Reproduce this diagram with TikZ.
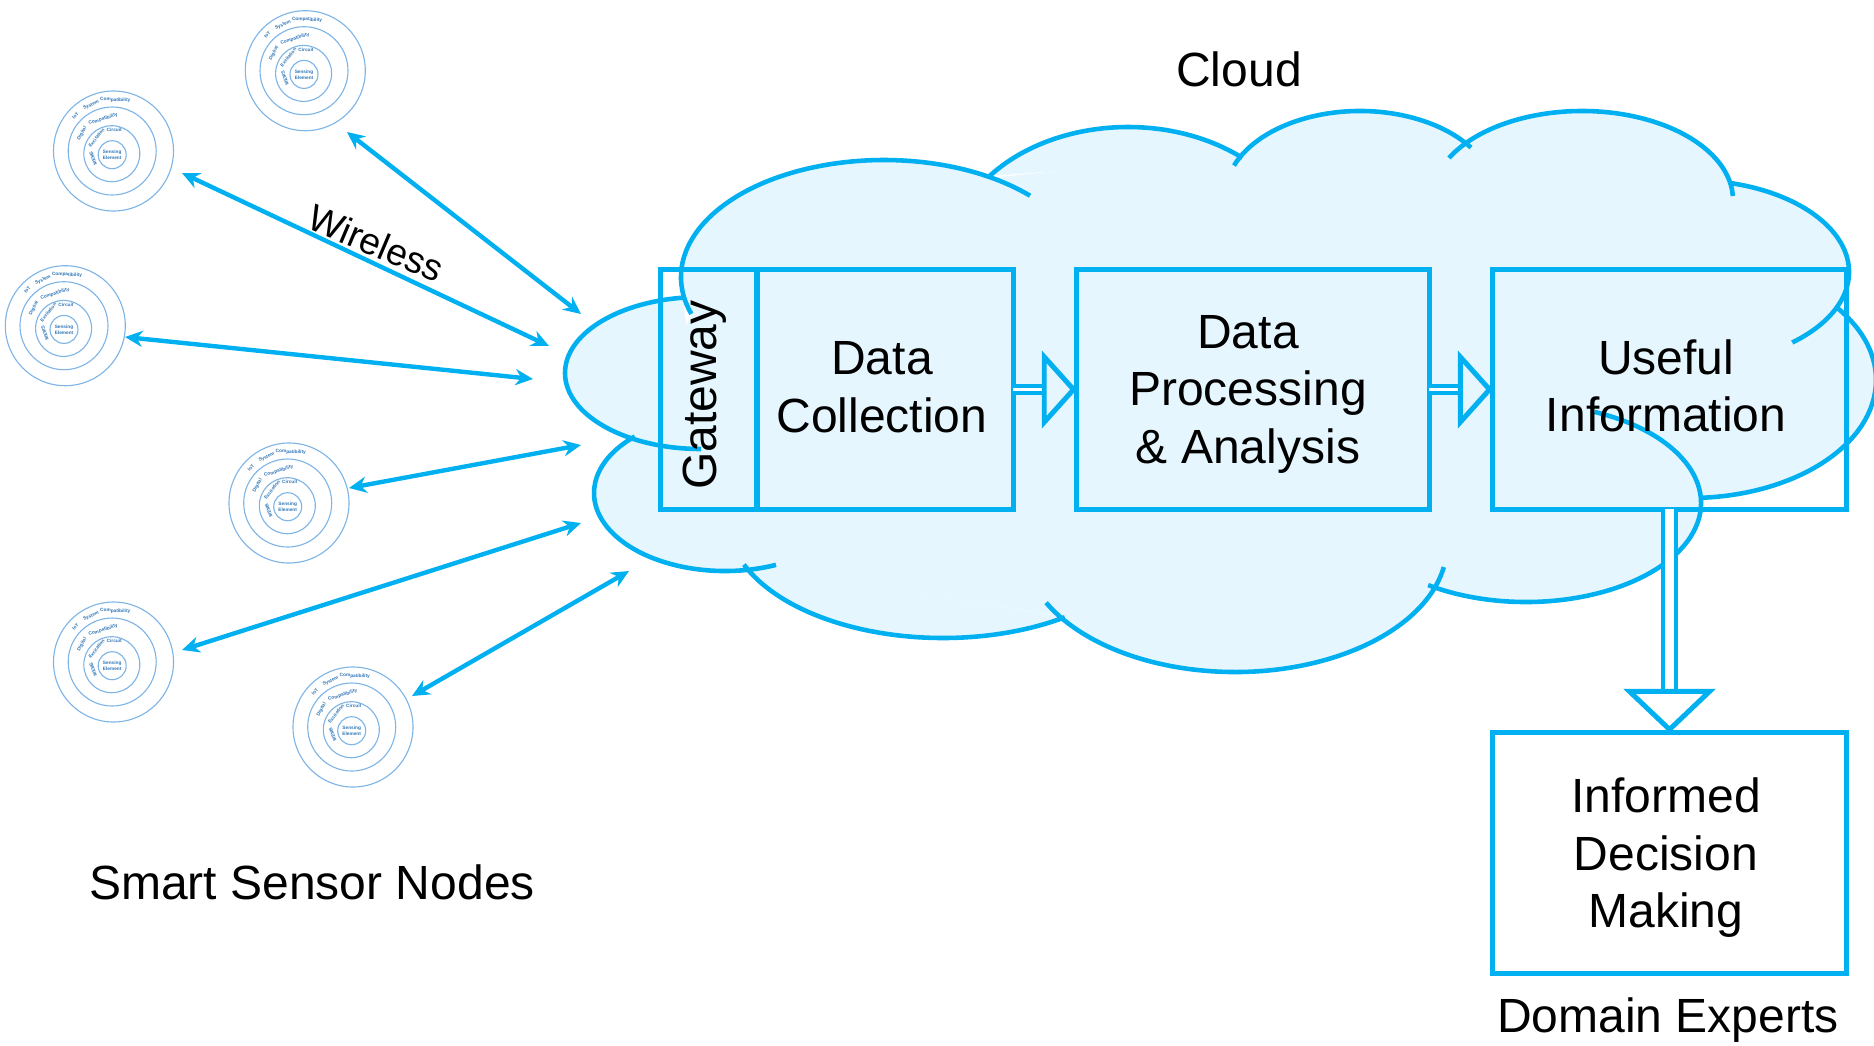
\documentclass[tikz,border=0pt]{standalone}
\usepackage{fontspec}
\setmainfont{Liberation Sans}
\usepackage{xcolor}
\usetikzlibrary{calc,positioning,arrows.meta}

\definecolor{cloudline}{HTML}{00B0F0}
\definecolor{cloudfill}{HTML}{E6F6FE}
\definecolor{ringline}{HTML}{7FB5E6}
\definecolor{ringtext}{HTML}{2E75B6}

\newcommand{\bigfont}{\fontsize{13.65}{16.35}\selectfont}
\newcommand{\ringfont}{\fontsize{1.35}{1.7}\selectfont\bfseries}

% one lobe of the cloud: centre x, centre y, x radius, y radius, start angle, end angle
\newcommand{\cloudlobe}[6]{(#1,#2) ++(#5:#3 and #4) arc[start angle=#5, end angle=#6, x radius=#3, y radius=#4]}
\def\allobes{
    \cloudlobe{884}{277}{203}{117}{161.6}{316}
    \cloudlobe{1128}{259}{178}{132}{219}{310}
    \cloudlobe{1360}{196}{135}{85}{201}{325.3}
    \cloudlobe{1582}{200}{151}{89}{208.2}{357.4}
    \cloudlobe{1690}{272}{159}{92}{284.6}{410}
    \cloudlobe{1690}{380}{186}{118}{321.3}{447}
    \cloudlobe{1526}{503}{175}{99}{293}{484}
    \cloudlobe{1235}{545}{212}{127}{10}{153}
    \cloudlobe{943}{520}{215}{118}{55.5}{157.8}
    \cloudlobe{725}{493}{131}{78}{67.1}{226.5}
    \cloudlobe{701}{373}{136}{76}{90}{262.4}
}

\tikzset{
    flowbox/.style={draw=cloudline, line width=1.42pt, minimum width=#1, minimum height=2.39cm, inner sep=0pt, outer sep=0pt},
    label/.style={font=\bigfont, align=center, inner sep=0pt},
    wireless/.style={draw=cloudline, line width=1.25pt, {Stealth[length=5pt,width=4.6pt]}-{Stealth[length=5pt,width=4.6pt]}},
    flow/.style={draw=cloudline, line width=1.1pt, double=white, double distance=0.8pt, -{Triangle[open,length=10pt,width=22pt,line width=1.42pt]}},
    ringword/.style={inner sep=0pt, font=\ringfont, text=ringtext, align=center},
    sensor/.pic={
        \begin{scope}[x=0.01cm,y=0.01cm,line width=0.32pt]
            \draw[ringline] (0,0) circle (60);
            \draw[ringline] (-1.3,0) circle (44);
            \draw[ringline] (-1.7,-2.7) circle (28);
            \draw[ringline] (-1.3,-3.7) circle (14);
            \node[ringword] (-core) at (-1.3,-3.7) {Sensing\\Element};
            \node[ringword, rotate=47] (-iot) at (137:52) {IoT};
            \node[ringword, rotate=26] (-sys) at (116:51) {System};
            \node[ringword, rotate=-2] (-comp) at (88:51) {Compatibility};
            \node[ringword, rotate=61] (-dig) at (151:36) {Digital};
            \node[ringword, rotate=18] (-dcomp) at (108:33.5) {Compatibility};
            \node[ringword, rotate=52] (-exc) at (142:21.6) {Excitation};
            \node[ringword, rotate=-2] (-circ) at (88:21) {Circuit};
            \node[ringword, rotate=110] (-mems) at (200:21.7) {MEMS};
        \end{scope}
    }
}

\begin{document}
\begin{tikzpicture}[x=0.01cm, y=-0.01cm]
    \useasboundingbox (0,0) rectangle (1874,1045);

    % cloud
    \fill[cloudfill] (692,314) -- (989,178) -- (1245,152) -- (1471,142) -- (1730,180) -- (1835,308) -- (1700,502) -- (1428,585) -- (1233,650) -- (1065,617) -- (744,565) -- (630,440) -- cycle;
    \fill[cloudfill] \allobes;
    \draw[cloudline, line width=1.3pt] \allobes;

    % boxes
    \node[flowbox=2.39cm, rotate=90, minimum height=0.96cm] (gateway) at (709,389.5) {};
    \node[flowbox=2.56cm] (collect) at (885,389.5) {};
    \node[flowbox=3.52cm] (process) at (1253,389.5) {};
    \node[flowbox=3.53cm] (useful) at (1669.5,389.5) {};
    \node[flowbox=3.53cm, minimum height=2.4cm] (decide) at (1669.5,853) {};

    \node[label, rotate=90] (gatewaytext) at (705,395) {Gateway};
    \node[label] (collecttext) at (882,387) {Data\\Collection};
    \node[label] (processtext) at (1248,394) {Data\\Processing\\\& Analysis};
    \node[label] (usefultext) at (1666,386) {Useful\\Information};
    \node[label] (decidetext) at (1666,858) {Informed\\Decision\\Making};

    % flow between the boxes
    \draw[flow] (collect.east) -- (process.west);
    \draw[flow] (process.east) -- (useful.west);
    \draw[flow, line width=1pt, double distance=2.8pt, -{Triangle[open,length=12.5pt,width=26pt,line width=1.42pt]}] (useful.south) -- (decide.north);

    % sensor nodes
    \pic (s1) at (305.3,70.7) {sensor};
    \pic (s2) at (113.5,151) {sensor};
    \pic (s3) at (65.3,325.7) {sensor};
    \pic (s4) at (289,503) {sensor};
    \pic (s5) at (113.5,662) {sensor};
    \pic (s6) at (353,727) {sensor};

    % free ends of the wireless links
    \coordinate (s1out) at (347,132);
    \coordinate (s2out) at (182,173);
    \coordinate (s3out) at (125,337);
    \coordinate (s4out) at (349,488);
    \coordinate (s5out) at (182,650);
    \coordinate (s6out) at (412,696);
    \coordinate (c1in) at (581,314);
    \coordinate (c2in) at (549,346);
    \coordinate (c3in) at (533,379);
    \coordinate (c4in) at (581,445);
    \coordinate (c5in) at (581,523);
    \coordinate (c6in) at (629,571);
    \foreach \i in {1,...,6}
        \draw[wireless] (s\i out) -- (c\i in);

    \node[label, font=\fontsize{10.6}{13}\selectfont, rotate=-23] (wirelesstext) at (376,243) {Wireless};
    \node[label] (cloudtext) at (1239,69) {Cloud};
    \node[label] (sensortext) at (312,882) {Smart Sensor Nodes};
    \node[label] (experttext) at (1668,1020) {Domain Experts};
\end{tikzpicture}
\end{document}
